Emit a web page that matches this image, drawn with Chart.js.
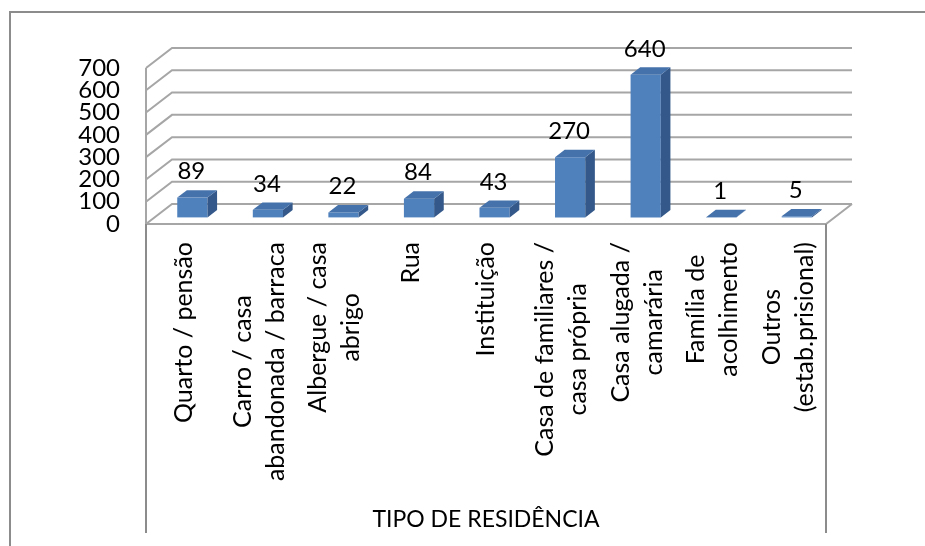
<!DOCTYPE html>
<html>
<head>
<meta charset="utf-8">
<script src="https://cdn.jsdelivr.net/npm/chart.js@4.4.1/dist/chart.umd.min.js"></script>
<style>
  body { margin: 0; background: #fff; }
  #wrap { width: 925px; height: 546px; }
</style>
</head>
<body>
<div id="wrap"><canvas id="chart" width="925" height="546"></canvas></div>
<script>
// ===================== DATA =====================
const categories = [
  ["Quarto / pensão"],
  ["Carro / casa", "abandonada / barraca"],
  ["Albergue / casa", "abrigo"],
  ["Rua"],
  ["Instituição"],
  ["Casa de familiares /", "casa própria"],
  ["Casa alugada /", "camarária"],
  ["Família de", "acolhimento"],
  ["Outros", "(estab.prisional)"]
];
const counts = [89, 34, 22, 84, 43, 270, 640, 1, 5];
const yTicks = [0, 100, 200, 300, 400, 500, 600, 700];
const axisTitle = "TIPO DE RESIDÊNCIA";

// ===================== 3D LOOK =====================
const DX = 26, DY = -20;       // depth of the box (front -> back wall)
const F1 = 0.33, F2 = 0.70;    // bar front / back, as part of the depth
const LINE = "#a6a6a6";
const FRONT = "#4f81bd", SIDE = "#335889", TOP = "#4572ab";
const FONT = "Lato, 'DejaVu Sans', sans-serif";

function line(ctx, pts) {
  ctx.beginPath();
  ctx.moveTo(pts[0][0], pts[0][1]);
  for (let i = 1; i < pts.length; i++) ctx.lineTo(pts[i][0], pts[i][1]);
  ctx.stroke();
}

function poly(ctx, pts, color) {
  ctx.beginPath();
  ctx.moveTo(pts[0][0], pts[0][1]);
  for (let i = 1; i < pts.length; i++) ctx.lineTo(pts[i][0], pts[i][1]);
  ctx.closePath();
  ctx.fillStyle = color;
  ctx.fill();
}

const box3d = {
  id: "box3d",
  beforeDraw(chart) {
    const ctx = chart.ctx;
    ctx.save();
    ctx.strokeStyle = "#8c8c8c";
    ctx.lineWidth = 2;
    line(ctx, [[10, 546], [10, 12], [925, 12]]);
    ctx.restore();
  },
  beforeDatasetsDraw(chart) {
    const ctx = chart.ctx;
    const { left, right } = chart.chartArea;
    const y = chart.scales.y;
    const y0 = y.getPixelForValue(0);

    ctx.save();
    ctx.strokeStyle = LINE;
    ctx.lineWidth = 2;
    yTicks.forEach(v => {
      const py = y.getPixelForValue(v);
      // back wall + left wall
      line(ctx, [[left, py], [left + DX, py + DY], [right + DX, py + DY]]);
    });
    // left wall front edge
    line(ctx, [[left, y.getPixelForValue(yTicks[yTicks.length - 1])], [left, y0]]);
    // floor
    line(ctx, [[left, y0], [right, y0], [right + DX, y0 + DY]]);
    // category box
    ctx.strokeStyle = "#8c8c8c";
    line(ctx, [[left, y0], [left, 533]]);
    line(ctx, [[right, y0], [right, 533]]);
    ctx.restore();

    ctx.save();
    ctx.translate(DX * F1, DY * F1);
  },
  afterDatasetsDraw(chart) {
    const ctx = chart.ctx;
    const meta = chart.getDatasetMeta(0);
    const ddx = DX * (F2 - F1), ddy = DY * (F2 - F1);

    meta.data.forEach(bar => {
      const { x, y, base, width } = bar.getProps(["x", "y", "base", "width"], true);
      const l = x - width / 2, r = x + width / 2;
      poly(ctx, [[r, y], [r + ddx, y + ddy], [r + ddx, base + ddy], [r, base]], SIDE);
      poly(ctx, [[l, y], [l + ddx, y + ddy], [r + ddx, y + ddy], [r, y]], TOP);
    });
    ctx.restore();

    // value labels
    ctx.save();
    ctx.fillStyle = "#000";
    ctx.font = "24px " + FONT;
    ctx.textAlign = "center";
    ctx.textBaseline = "middle";
    meta.data.forEach((bar, i) => {
      ctx.fillText(String(counts[i]), bar.x + DX * F1 - 1, bar.y + DY * F1 - 26);
    });

    // category labels, rotated, lines centred on each other
    const xs = chart.scales.x;
    const lh = 33, topY = 242;
    ctx.font = "25px " + FONT;
    categories.forEach((lines, i) => {
      const cx = xs.getPixelForValue(i);
      const maxW = Math.max(...lines.map(t => ctx.measureText(t).width));
      ctx.save();
      ctx.translate(cx, topY);
      ctx.rotate(-Math.PI / 2);
      lines.forEach((t, j) => {
        ctx.fillText(t, -maxW / 2, (j - (lines.length - 1) / 2) * lh);
      });
      ctx.restore();
    });
    ctx.restore();
  }
};

// ===================== CHART =====================
new Chart(document.getElementById("chart"), {
  type: "bar",
  data: {
    labels: categories,
    datasets: [{
      data: counts,
      backgroundColor: FRONT,
      borderWidth: 0,
      categoryPercentage: 1,
      barPercentage: 0.4,
      clip: false
    }]
  },
  options: {
    responsive: false,
    animation: false,
    layout: { padding: { left: 0, right: 99, top: 68, bottom: 13 } },
    plugins: { legend: { display: false }, tooltip: { enabled: false } },
    scales: {
      x: {
        grid: { display: false, drawTicks: false },
        border: { display: false },
        ticks: { display: false },
        title: {
          display: true,
          text: axisTitle,
          color: "#000",
          font: { family: FONT, size: 23 },
          padding: 0
        },
        afterFit: s => { s.height = 309; }
      },
      y: {
        min: 0,
        max: 700,
        grid: { display: false, drawTicks: false },
        border: { display: false },
        ticks: {
          stepSize: 100,
          autoSkip: false,
          padding: 26,
          color: "#000",
          font: { family: FONT, size: 24, lineHeight: 0.9 }
        },
        afterFit: s => { s.width = 146; }
      }
    }
  },
  plugins: [box3d]
});
</script>
</body>
</html>
